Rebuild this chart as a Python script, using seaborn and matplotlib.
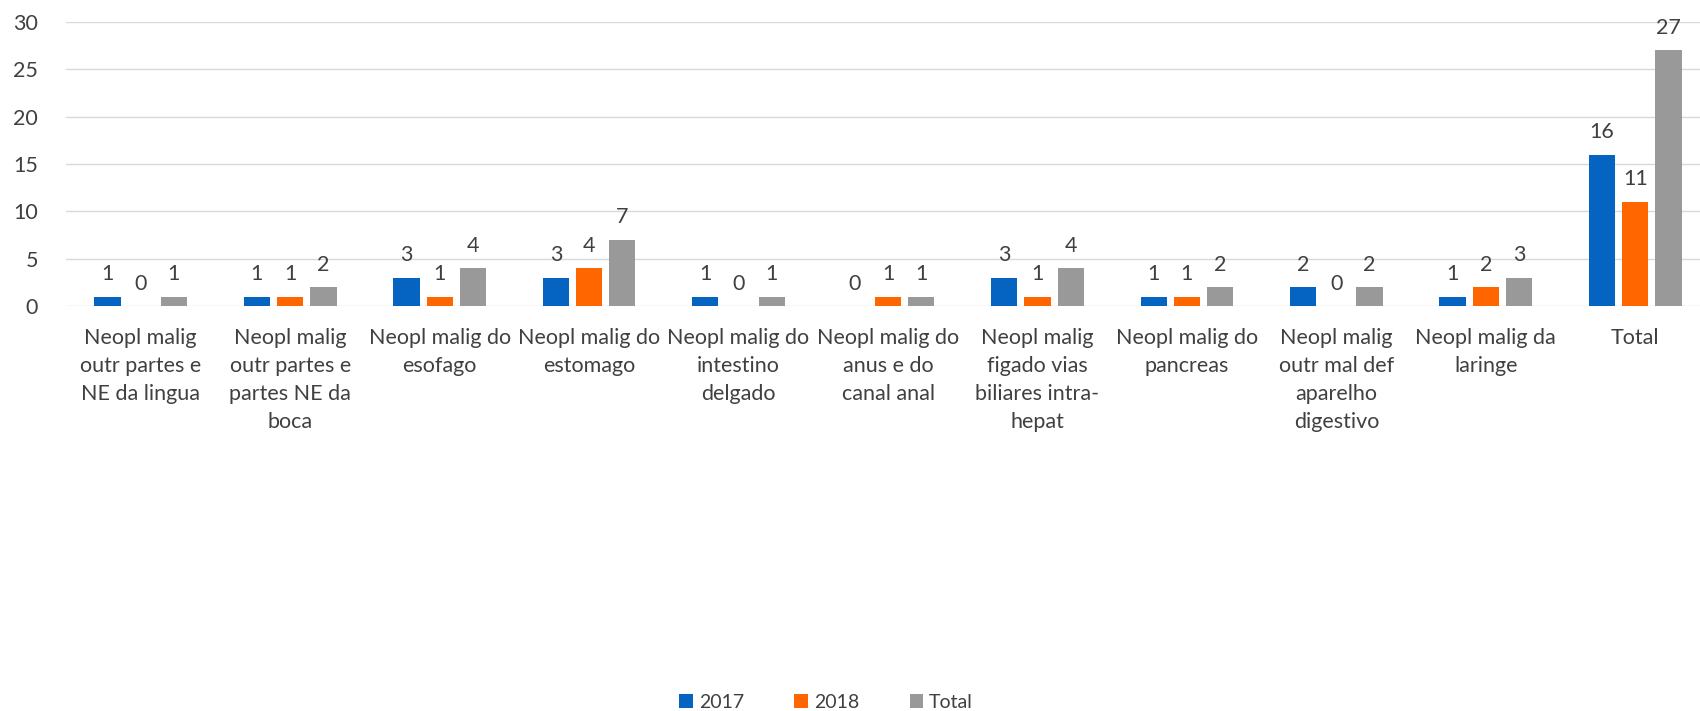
import pandas as pd
import numpy as np
import matplotlib
matplotlib.use('Agg')
import matplotlib.pyplot as plt
import seaborn as sns

# data
categories = ['Neopl malig\noutr partes e\nNE da lingua',
              'Neopl malig\noutr partes e\npartes NE da\nboca',
              'Neopl malig do\nesofago',
              'Neopl malig do\nestomago',
              'Neopl malig do\nintestino\ndelgado',
              'Neopl malig do\nanus e do\ncanal anal',
              'Neopl malig\nfigado vias\nbiliares intra-\nhepat',
              'Neopl malig do\npancreas',
              'Neopl malig\noutr mal def\naparelho\ndigestivo',
              'Neopl malig da\nlaringe',
              'Total']
values_2017 = [1, 1, 3, 3, 1, 0, 3, 1, 2, 1, 16]
values_2018 = [0, 1, 1, 4, 0, 1, 1, 1, 0, 2, 11]
values_total = [1, 2, 4, 7, 1, 1, 4, 2, 2, 3, 27]
series = ['2017', '2018', 'Total']
colors = ['#0563C1', '#FF6600', '#999999']

sns.set_theme(style='white')
plt.rcParams['font.family'] = ['Lato', 'DejaVu Sans']
text_color = '#404040'

df = pd.DataFrame({
    'categoria': categories * 3,
    'serie': np.repeat(series, len(categories)),
    'valor': values_2017 + values_2018 + values_total,
})

fig = plt.figure(figsize=(17, 7.11), dpi=100)
ax = fig.add_axes([66 / 1700, 1 - 306 / 711, 1644 / 1700, (306 - 22) / 711])
sns.barplot(data=df, x='categoria', y='valor', hue='serie', palette=colors,
            width=0.667, gap=0.21, saturation=1, linewidth=0, ax=ax)

for c in ax.containers:
    ax.bar_label(c, padding=9, fontsize=15.5, color=text_color)

ax.set_ylim(0, 30)
ax.set_yticks(range(0, 31, 5))
ax.set_xlim(-0.5, len(categories) - 0.5)
ax.yaxis.grid(True, color='#D9D9D9', linewidth=1)
ax.set_axisbelow(True)
for s in ax.spines.values():
    s.set_visible(False)
ax.tick_params(axis='both', length=0, labelsize=15.5, colors=text_color)
ax.tick_params(axis='y', pad=20)
ax.tick_params(axis='x', pad=16)
for t in ax.get_xticklabels():
    t.set_linespacing(1.5)
ax.set_xlabel('')
ax.set_ylabel('')

handles, labels = ax.get_legend_handles_labels()
ax.legend(handles, labels, loc='center', bbox_to_anchor=(0.486, 0.012),
          bbox_transform=fig.transFigure, ncol=3, frameon=False, fontsize=14,
          handlelength=0.7, handleheight=0.7, handletextpad=0.3,
          columnspacing=2.6, labelcolor=text_color)

fig.savefig('out.png', dpi=100)
